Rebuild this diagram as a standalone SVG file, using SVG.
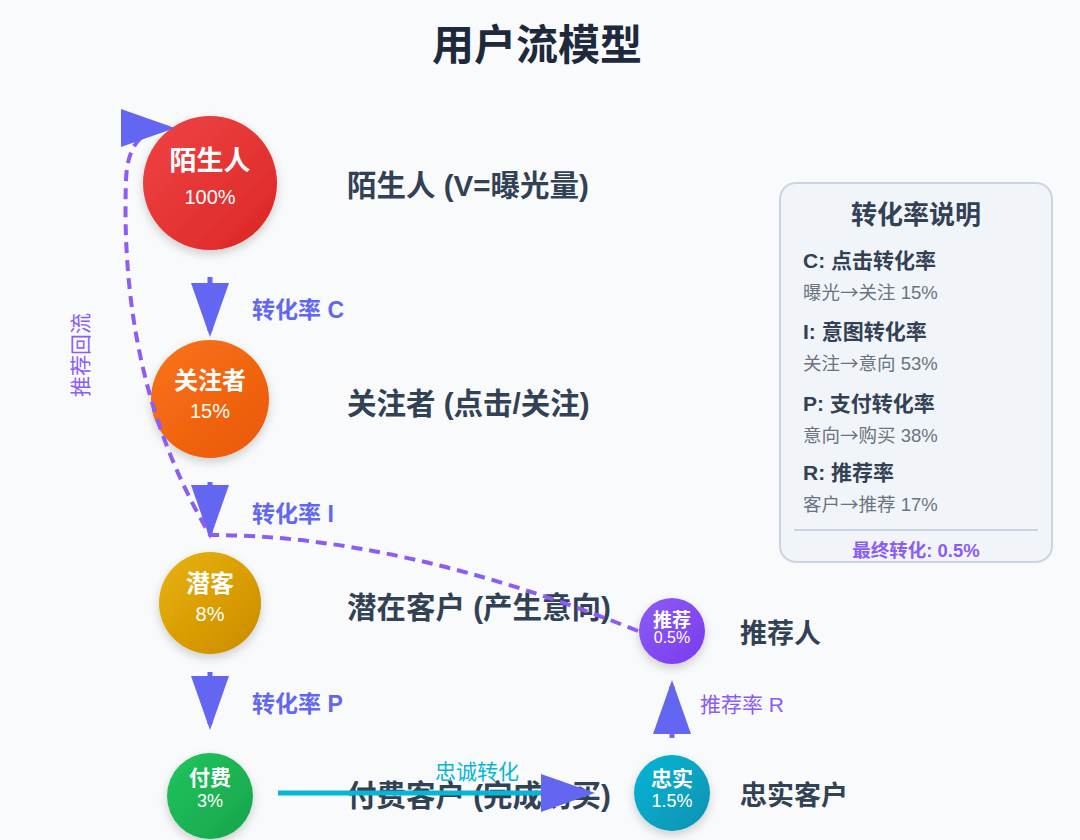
<svg xmlns="http://www.w3.org/2000/svg" width="1080" height="840" viewBox="0 0 1080 840">
  <defs>
    <style>
      text { font-family: "Liberation Sans", "Noto Sans CJK SC", sans-serif; }
      .title { font-size: 42px; font-weight: bold; fill: #1e293b; text-anchor: middle; }
      .cname { font-weight: bold; fill: #ffffff; text-anchor: middle; }
      .cpct { fill: #ffffff; text-anchor: middle; }
      .lbl { font-size: 29.5px; font-weight: bold; fill: #334155; }
      .lbl2 { font-size: 27px; font-weight: bold; fill: #334155; }
      .rate { font-size: 23px; font-weight: bold; fill: #6366f1; }
      .lg-title { font-size: 26px; font-weight: bold; fill: #334155; text-anchor: middle; }
      .lg-head { font-size: 21px; font-weight: bold; fill: #334155; }
      .lg-sub { font-size: 18.5px; fill: #6b7280; }
      .arr { font-family: "Noto Sans CJK SC", sans-serif; }
      .down { stroke: #6366f1; stroke-width: 5; fill: none; marker-end: url(#arrow); }
    </style>
    <filter id="shadow" x="-30%" y="-30%" width="160%" height="160%">
      <feDropShadow dx="0" dy="4" stdDeviation="5" flood-color="#000000" flood-opacity="0.18"/>
    </filter>
    <linearGradient id="gRed" x1="0" y1="0" x2="1" y2="1">
      <stop offset="0" stop-color="#ef4444"/>
      <stop offset="1" stop-color="#dc2626"/>
    </linearGradient>
    <linearGradient id="gOrange" x1="0" y1="0" x2="1" y2="1">
      <stop offset="0" stop-color="#f97316"/>
      <stop offset="1" stop-color="#ea580c"/>
    </linearGradient>
    <linearGradient id="gYellow" x1="0" y1="0" x2="1" y2="1">
      <stop offset="0" stop-color="#eab308"/>
      <stop offset="1" stop-color="#ca8a04"/>
    </linearGradient>
    <linearGradient id="gGreen" x1="0" y1="0" x2="1" y2="1">
      <stop offset="0" stop-color="#22c55e"/>
      <stop offset="1" stop-color="#16a34a"/>
    </linearGradient>
    <linearGradient id="gCyan" x1="0" y1="0" x2="1" y2="1">
      <stop offset="0" stop-color="#06b6d4"/>
      <stop offset="1" stop-color="#0891b2"/>
    </linearGradient>
    <linearGradient id="gPurple" x1="0" y1="0" x2="1" y2="1">
      <stop offset="0" stop-color="#8b5cf6"/>
      <stop offset="1" stop-color="#7c3aed"/>
    </linearGradient>
    <marker id="arrow" markerUnits="userSpaceOnUse" markerWidth="54" markerHeight="38" refX="48" refY="19" orient="auto">
      <polygon points="0,0 54,19 0,38" fill="#6366f1"/>
    </marker>
  </defs>

  <rect x="0" y="0" width="1080" height="840" fill="#f8fafc"/>

  <text class="title" x="537" y="60">用户流模型</text>

  <g id="node-stranger">
    <circle cx="210" cy="183" r="67" fill="url(#gRed)" filter="url(#shadow)"/>
    <text class="cname" x="210" y="170" font-size="27">陌生人</text>
    <text class="cpct" x="210" y="204" font-size="20">100%</text>
    <text class="lbl" x="347" y="196">陌生人 (V=曝光量)</text>
  </g>

  <g id="node-follower">
    <circle cx="210" cy="399" r="59" fill="url(#gOrange)" filter="url(#shadow)"/>
    <text class="cname" x="210" y="389" font-size="24">关注者</text>
    <text class="cpct" x="210" y="418" font-size="20">15%</text>
    <text class="lbl" x="347" y="414">关注者 (点击/关注)</text>
  </g>

  <g id="node-prospect">
    <circle cx="210" cy="603" r="51" fill="url(#gYellow)" filter="url(#shadow)"/>
    <text class="cname" x="210" y="592" font-size="24">潜客</text>
    <text class="cpct" x="210" y="621" font-size="20">8%</text>
    <text class="lbl" x="347" y="618">潜在客户 (产生意向)</text>
  </g>

  <g id="node-paid">
    <circle cx="210" cy="796" r="43" fill="url(#gGreen)" filter="url(#shadow)"/>
    <text class="cname" x="210" y="785" font-size="21">付费</text>
    <text class="cpct" x="210" y="807" font-size="18">3%</text>
    <text class="lbl" x="347" y="806">付费客户 (完成购买)</text>
  </g>

  <g id="node-loyal">
    <circle cx="672" cy="793" r="38" fill="url(#gCyan)" filter="url(#shadow)"/>
    <text class="cname" x="672" y="786" font-size="21">忠实</text>
    <text class="cpct" x="672" y="807" font-size="18">1.5%</text>
    <text class="lbl2" x="740" y="805">忠实客户</text>
  </g>

  <g id="node-referrer">
    <circle cx="672" cy="631" r="33" fill="url(#gPurple)" filter="url(#shadow)"/>
    <text class="cname" x="672" y="627" font-size="19">推荐</text>
    <text class="cpct" x="672" y="643" font-size="16">0.5%</text>
    <text class="lbl2" x="740" y="643">推荐人</text>
  </g>

  <g id="legend">
    <rect x="780" y="183" width="272" height="379" rx="16" fill="#f1f5f9" stroke="#cbd5e1" stroke-width="2"/>
    <text class="lg-title" x="916" y="224">转化率说明</text>
    <text class="lg-head" x="803" y="268">C: 点击转化率</text>
    <text class="lg-sub" x="803" y="299">曝光<tspan class="arr">→</tspan>关注 15%</text>
    <text class="lg-head" x="803" y="339">I: 意图转化率</text>
    <text class="lg-sub" x="803" y="370">关注<tspan class="arr">→</tspan>意向 53%</text>
    <text class="lg-head" x="803" y="411">P: 支付转化率</text>
    <text class="lg-sub" x="803" y="442">意向<tspan class="arr">→</tspan>购买 38%</text>
    <text class="lg-head" x="803" y="480">R: 推荐率</text>
    <text class="lg-sub" x="803" y="511">客户<tspan class="arr">→</tspan>推荐 17%</text>
    <line x1="794" y1="530" x2="1038" y2="530" stroke="#cbd5e1" stroke-width="2"/>
    <text x="916" y="557" font-size="18.5" font-weight="bold" fill="#8b5cf6" text-anchor="middle">最终转化: 0.5%</text>
  </g>

  <g id="connectors">
    <line class="down" x1="210" y1="277" x2="210" y2="331"/>
    <text class="rate" x="252" y="318">转化率 C</text>
    <line class="down" x1="210" y1="482" x2="210" y2="533"/>
    <text class="rate" x="252" y="522">转化率 I</text>
    <line class="down" x1="210" y1="672" x2="210" y2="724"/>
    <text class="rate" x="252" y="712">转化率 P</text>

    <line x1="672" y1="738" x2="672" y2="686" stroke="#8b5cf6" stroke-width="5" marker-end="url(#arrow)"/>
    <text x="700" y="712" font-size="21" fill="#8b5cf6">推荐率 R</text>

    <line x1="278" y1="793" x2="589" y2="793" stroke="#06b6d4" stroke-width="5" marker-end="url(#arrow)"/>
    <text x="477" y="779" font-size="21" fill="#06b6d4" text-anchor="middle">忠诚转化</text>

    <path d="M 638 631 Q 400 535 210 535 C 142 420 122 300 126 180 Q 128 128 169 128" fill="none" stroke="#8b5cf6" stroke-width="4" stroke-dasharray="11,7" marker-end="url(#arrow)"/>
    <text x="0" y="0" font-size="21" fill="#8b5cf6" text-anchor="middle" transform="translate(88,355) rotate(-90)">推荐回流</text>
  </g>
</svg>
